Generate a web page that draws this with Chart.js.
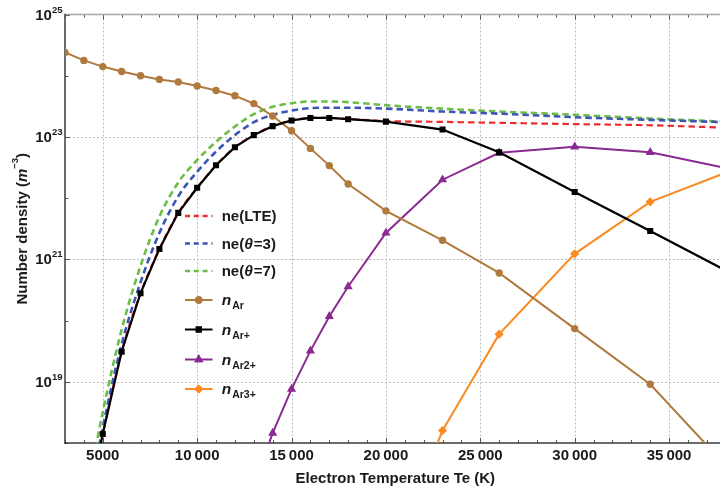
<!DOCTYPE html>
<html><head><meta charset="utf-8">
<script src="https://cdn.jsdelivr.net/npm/chart.js@4/dist/chart.umd.min.js"></script>
<style>
html,body{margin:0;padding:0;background:#fff;overflow:hidden;}
#wrap{width:720px;height:493px;overflow:hidden;position:relative;background:#fff;}
#c{position:absolute;left:0;top:0;}
</style></head><body>
<div id="wrap"><canvas id="c" width="731" height="493" style="width:731px;height:493px"></canvas></div>
<script>
// ---- data ----
const temps = [3000,4000,5000,6000,7000,8000,9000,10000,11000,12000,13000,14000,15000,16000,17000,18000,20000,23000,26000,30000,34000,38000];
const neLTE    = [null,3.5e16,1.4e18,3.1e19,2.8e20,1.48e21,5.75e21,1.48e22,3.45e22,6.8e22,1.07e23,1.5e23,1.86e23,2.04e23,2.04e23,1.97e23,1.82e23,1.76e23,1.70e23,1.62e23,1.55e23,1.42e23];
const neTheta3 = [null,4e16,1.78e18,4.1e19,4.2e20,2.7e21,1.07e22,2.7e22,5.75e22,1.07e23,1.74e23,2.3e23,2.7e23,2.95e23,3.0e23,3.0e23,2.9e23,2.6e23,2.4e23,2.1e23,1.9e23,1.74e23];
const neTheta7 = [null,8e16,3.2e18,7.1e19,7.8e20,5.0e21,1.8e22,4.2e22,8.3e22,1.48e23,2.35e23,3.1e23,3.55e23,3.8e23,3.8e23,3.7e23,3.3e23,2.9e23,2.6e23,2.3e23,2.0e23,1.78e23];
const nAr      = [2.4e24,1.78e24,1.41e24,1.17e24,1.0e24,8.7e23,7.9e23,6.8e23,5.75e23,4.7e23,3.5e23,2.2e23,1.26e23,6.5e22,3.4e22,1.7e22,6.2e21,2.05e21,6.0e20,7.4e19,9.1e18,4.3e17];
const nArPlus  = [null,3.5e16,1.4e18,3.1e19,2.8e20,1.48e21,5.75e21,1.48e22,3.45e22,6.8e22,1.07e23,1.5e23,1.86e23,2.04e23,2.04e23,1.95e23,1.78e23,1.32e23,5.6e22,1.26e22,2.9e21,6.6e20];
const nAr2Plus = [null,null,null,null,null,null,null,null,null,null,2e17,1.45e18,7.6e18,3.2e19,1.17e20,3.6e20,2.7e21,2.0e22,5.5e22,6.9e22,5.6e22,3.1e22];
const nAr3Plus = [null,null,null,null,null,null,null,null,null,null,null,null,null,null,null,null,8e15,1.6e18,6.0e19,1.23e21,8.7e21,2.6e22];
const xTickVals = [5000,10000,15000,20000,25000,30000,35000];
const yTickExps = [19,21,23,25];
const xRange = [3000,38000];
const yRange = [1e18,1e25];
const xTitle = 'Electron Temperature Te (K)';

const FONT = '"Liberation Sans", Arial, Helvetica, sans-serif';
const pts = arr => temps.map((t,i)=>({x:t, y:arr[i]}));

function dashed(label, data, color){
  return {label, data: pts(data), borderColor: color, backgroundColor: color, borderWidth: 2.6,
    borderDash:[6.5,4], pointRadius:0, cubicInterpolationMode:'monotone', order:10, fill:false};
}
function marked(label, data, color, style, r){
  return {label, data: pts(data), borderColor: color, backgroundColor: color, borderWidth: 2,
    pointStyle: style, pointRadius: r, pointBorderWidth: 0, pointBackgroundColor: color, order: 1, tension: 0, fill:false};
}
const datasets = [
  Object.assign(dashed('ne(LTE)', neLTE, '#ec2b2b'), {borderWidth:2.2, order:12}),
  dashed('ne(θ=3)', neTheta3, '#3d56b6'),
  dashed('ne(θ=7)', neTheta7, '#6cbd45'),
  marked('nAr', nAr, '#b07a3e', 'circle', 3.7),
  Object.assign(marked('nAr+', nArPlus, '#000000', 'rect', 4.3), {borderWidth:2.2, order:0}),
  marked('nAr2+', nAr2Plus, '#8a2a93', 'triangle', 5.3),
  marked('nAr3+', nAr3Plus, '#fb8a22', 'rectRot', 4.6)
];

// rich-text legend labels: [text, italic?, sub?]
const legendRuns = [
  [['ne(LTE)']],
  [['ne('],['θ','i'],['=3)']],
  [['ne('],['θ','i'],['=7)']],
  [['n','i'],['Ar','s']],
  [['n','i'],['Ar+','s']],
  [['n','i'],['Ar2+','s']],
  [['n','i'],['Ar3+','s']]
];

function drawRuns(ctx, runs, x, y){
  for (const [t, kind] of runs){
    if (kind==='s'){ ctx.font = 'bold 10.5px '+FONT; ctx.fillText(t, x, y+4.3); }
    else if (kind==='i'){ ctx.font = 'italic bold 15.5px '+FONT; ctx.fillText(t, x, y); }
    else { ctx.font = 'bold 15px '+FONT; ctx.fillText(t, x, y); }
    x += ctx.measureText(t).width + (kind==='i' ? 1 : 0);
  }
}

const decor = {
  id:'decor',
  beforeDatasetsDraw(chart){
    const {ctx, chartArea:a, scales:{x,y}} = chart;
    ctx.save();
    const L=(x1,y1,x2,y2)=>{ctx.beginPath();ctx.moveTo(x1,y1);ctx.lineTo(x2,y2);ctx.stroke();};
    // dotted grid
    ctx.strokeStyle='#bdbdbd'; ctx.lineWidth=1; ctx.setLineDash([2,2]);
    xTickVals.forEach(v=>{const p=Math.round(x.getPixelForValue(v))+0.5; L(p,a.top,p,a.bottom);});
    yTickExps.forEach(e=>{ if (e<25){const p=Math.round(y.getPixelForValue(Math.pow(10,e)))+0.5; L(a.left,p,a.right,p);} });
    ctx.setLineDash([]);
    // minor / major ticks (inward)
    ctx.strokeStyle='#555'; ctx.lineWidth=1;
    for (let v=Math.ceil(xRange[0]/1000)*1000; v<=xRange[1]; v+=1000){
      const p=Math.round(x.getPixelForValue(v))+0.5; const len = (v%5000===0)?5:3;
      L(p,a.bottom,p,a.bottom-len); L(p,a.top,p,a.top+len);
    }
    for (let e=18; e<=25; e++){
      const p=Math.round(y.getPixelForValue(Math.pow(10,e)))+0.5; const len=(e%2)?5:3.5;
      L(a.left,p,a.left+len,p);
    }
    // frame
    ctx.strokeStyle='#a8a8a8'; ctx.lineWidth=1.6; L(a.left,a.top,a.right,a.top);
    ctx.strokeStyle='#3a3a3a'; ctx.lineWidth=1.5;
    L(a.left,a.top-0.8,a.left,a.bottom+0.7); L(a.left-0.7,a.bottom,a.right,a.bottom);
    ctx.restore();
  },
  afterDraw(chart){
    const {ctx, chartArea:a, scales:{y}} = chart;
    ctx.save();
    ctx.fillStyle='#1a1a1a'; ctx.textBaseline='middle';
    // y tick labels 10^n
    yTickExps.forEach(e=>{
      const p=y.getPixelForValue(Math.pow(10,e));
      ctx.font='bold 9.5px '+FONT; const sw=ctx.measureText(String(e)).width;
      const right=a.left-2.5;
      ctx.textAlign='left'; ctx.fillText(String(e), right-sw, p-4.5);
      ctx.font='bold 15px '+FONT; ctx.textAlign='right'; ctx.fillText('10', right-sw, p+1);
    });
    // y title
    ctx.translate(21.5, (a.top+a.bottom)/2); ctx.rotate(-Math.PI/2);
    const parts=[['Number density (','bold 15px '],['m','bold italic 15px '],['−3','bold 9.5px '],[')','bold 15px ']];
    let w=0; parts.forEach(([t,f])=>{ctx.font=f+FONT; w+=ctx.measureText(t).width;});
    let xx=-w/2; ctx.textAlign='left';
    parts.forEach(([t,f])=>{ctx.font=f+FONT; ctx.fillText(t, xx, t==='−3'?-6:1); xx+=ctx.measureText(t).width;});
    ctx.restore();
    // legend
    ctx.save();
    const rows=[216,243.5,271,300,329.5,359.5,389];
    const x0=185, x1=212.5, tx=221.7;
    chart.data.datasets.forEach((ds,i)=>{
      const ry=rows[i];
      ctx.strokeStyle=ds.borderColor; ctx.lineWidth=ds.borderDash? 2.6 : 2;
      ctx.setLineDash(ds.borderDash? [5,3.8]:[]);
      ctx.beginPath(); ctx.moveTo(x0,ry); ctx.lineTo(x1,ry); ctx.stroke();
      ctx.setLineDash([]);
      if (ds.pointRadius>0){
        ctx.fillStyle=ds.borderColor;
        Chart.helpers.drawPoint(ctx,{pointStyle:ds.pointStyle, radius:ds.pointRadius, rotation:0, borderWidth:0}, (x0+x1)/2, ry);
        ctx.fill();
      }
      ctx.fillStyle='#1a1a1a'; ctx.textBaseline='alphabetic'; ctx.textAlign='left';
      drawRuns(ctx, legendRuns[i], tx, ry+5);
    });
    ctx.restore();
  }
};

const fmt = v => { const s=String(v); return s.length>4 ? s.slice(0,s.length-3)+'\u2009'+s.slice(-3) : s; };

new Chart(document.getElementById('c'), {
  type:'line',
  data:{datasets},
  options:{
    responsive:false, animation:false, devicePixelRatio:1,
    layout:{padding:{top:14.5,left:0,right:0,bottom:0}},
    plugins:{legend:{display:false}, tooltip:{enabled:false}},
    elements:{line:{capBezierPoints:true}},
    scales:{
      x:{type:'linear', min:xRange[0], max:xRange[1],
        afterBuildTicks:s=>{s.ticks=xTickVals.map(v=>({value:v}));},
        afterFit:s=>{s.height=50;},
        grid:{display:false, drawTicks:false}, border:{display:false},
        ticks:{color:'#1a1a1a', font:{family:FONT, size:15, weight:'bold'}, padding:4, maxRotation:0, autoSkip:false, callback:fmt},
        title:{display:true, text:xTitle, color:'#1a1a1a', font:{family:FONT, size:15, weight:'bold'}, padding:{top:0,bottom:5}}
      },
      y:{type:'logarithmic', min:yRange[0], max:yRange[1],
        afterBuildTicks:s=>{s.ticks=yTickExps.map(e=>({value:Math.pow(10,e)}));},
        afterFit:s=>{s.width=65;},
        grid:{display:false, drawTicks:false}, border:{display:false},
        ticks:{display:false}
      }
    }
  },
  plugins:[decor]
});
</script>
</body></html>
